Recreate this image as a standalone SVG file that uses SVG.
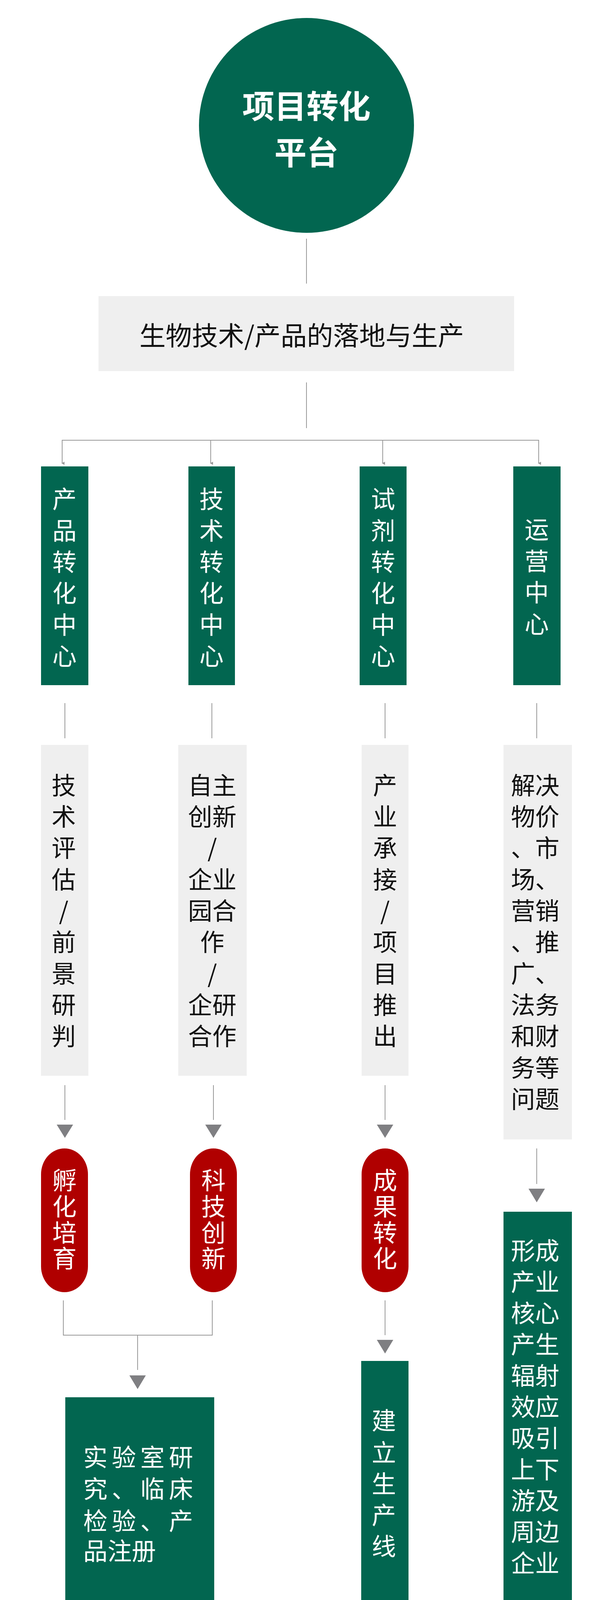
<svg xmlns="http://www.w3.org/2000/svg" width="1563" height="4218" viewBox="0 0 1563 4218">
<style>
.g{fill:#026650}.r{fill:#B00000}.b{fill:#EFEFEF}
text{font-family:"Noto Sans CJK SC","Liberation Sans",sans-serif;dominant-baseline:central;text-anchor:middle}
.w{fill:#fff;font-size:62px}.k{fill:#111;font-size:62px}
.ln{stroke:#999;stroke-width:2;fill:none}
.ar{fill:#7f7f82}
</style>
<defs><marker id="sm" markerWidth="8" markerHeight="8" refX="4" refY="6" orient="auto-start-reverse" markerUnits="userSpaceOnUse" viewBox="0 0 8 8"><path d="M0,0 L8,0 L4,8 Z" fill="#999"/></marker></defs>
<rect width="1563" height="4218" fill="#fff"/>
<g id="connectors">
<line class="ln" x1="784" y1="611" x2="784" y2="726"/>
<line class="ln" x1="784" y1="979" x2="784" y2="1096"/>
<polyline class="ln" points="159,1180 159,1127 1378,1127 1378,1180"/>
<line class="ln" x1="159" y1="1127" x2="159" y2="1186" marker-end="url(#sm)"/>
<line class="ln" x1="539" y1="1127" x2="539" y2="1186" marker-end="url(#sm)"/>
<line class="ln" x1="979" y1="1127" x2="979" y2="1186" marker-end="url(#sm)"/>
<line class="ln" x1="1378" y1="1127" x2="1378" y2="1186" marker-end="url(#sm)"/>
<line class="ln" x1="166" y1="1800" x2="166" y2="1890"/>
<line class="ln" x1="542" y1="1800" x2="542" y2="1890"/>
<line class="ln" x1="985" y1="1800" x2="985" y2="1890"/>
<line class="ln" x1="1373" y1="1800" x2="1373" y2="1890"/>
<line class="ln" x1="166" y1="2778" x2="166" y2="2867"/><path class="ar" d="M145,2879 H187 L166,2913 Z"/>
<line class="ln" x1="546" y1="2778" x2="546" y2="2867"/><path class="ar" d="M525,2879 H567 L546,2913 Z"/>
<line class="ln" x1="985" y1="2778" x2="985" y2="2867"/><path class="ar" d="M964,2879 H1006 L985,2913 Z"/>
<line class="ln" x1="1373" y1="2940" x2="1373" y2="3031"/><path class="ar" d="M1352,3043 H1394 L1373,3078 Z"/>
<polyline class="ln" points="162,3329 162,3418 543,3418 543,3329"/>
<line class="ln" x1="352" y1="3418" x2="352" y2="3507"/><path class="ar" d="M331,3521 H373 L352,3556 Z"/>
<line class="ln" x1="985" y1="3329" x2="985" y2="3418"/><path class="ar" d="M964,3430 H1006 L985,3465 Z"/>
</g>
<g id="root"><circle class="g" cx="784" cy="321" r="275"/>
<text class="w" x="784" y="266" style="font-size:82px;font-weight:bold">项目转化</text>
<text class="w" x="784" y="385" style="font-size:82px;font-weight:bold">平台</text></g>
<g id="landing"><rect class="b" x="252" y="758" width="1063" height="192"/>
<text class="k" x="772" y="854" style="font-size:67px">生物技术/产品的落地与生产</text></g>
<g id="c1"><rect class="g" x="105" y="1194" width="121" height="560"/>
<text class="w" x="165"><tspan x="165" y="1274">产</tspan><tspan x="165" y="1355">品</tspan><tspan x="165" y="1435">转</tspan><tspan x="165" y="1515">化</tspan><tspan x="165" y="1596">中</tspan><tspan x="165" y="1676">心</tspan></text></g>
<g id="c2"><rect class="g" x="482" y="1194" width="119" height="560"/>
<text class="w" x="541"><tspan x="541" y="1274">技</tspan><tspan x="541" y="1355">术</tspan><tspan x="541" y="1435">转</tspan><tspan x="541" y="1515">化</tspan><tspan x="541" y="1596">中</tspan><tspan x="541" y="1676">心</tspan></text></g>
<g id="c3"><rect class="g" x="920" y="1194" width="120" height="560"/>
<text class="w" x="980"><tspan x="980" y="1274">试</tspan><tspan x="980" y="1355">剂</tspan><tspan x="980" y="1435">转</tspan><tspan x="980" y="1515">化</tspan><tspan x="980" y="1596">中</tspan><tspan x="980" y="1676">心</tspan></text></g>
<g id="c4"><rect class="g" x="1313" y="1194" width="121" height="560"/>
<text class="w" x="1373"><tspan x="1373" y="1352">运</tspan><tspan x="1373" y="1433">营</tspan><tspan x="1373" y="1513">中</tspan><tspan x="1373" y="1594">心</tspan></text></g>
<g id="d1"><rect class="b" x="105" y="1907" width="121" height="847"/>
<text class="k"><tspan x="163" y="2007">技</tspan><tspan x="163" y="2087">术</tspan><tspan x="163" y="2167">评</tspan><tspan x="163" y="2248">估</tspan><tspan x="163" y="2328">/</tspan><tspan x="163" y="2408">前</tspan><tspan x="163" y="2489">景</tspan><tspan x="163" y="2569">研</tspan><tspan x="163" y="2649">判</tspan></text></g>
<g id="d2"><rect class="b" x="456" y="1907" width="175" height="847"/>
<text class="k"><tspan x="543" y="2007">自主</tspan><tspan x="543" y="2087">创新</tspan><tspan x="543" y="2167">/</tspan><tspan x="543" y="2248">企业</tspan><tspan x="543" y="2328">园合</tspan><tspan x="543" y="2408">作</tspan><tspan x="543" y="2489">/</tspan><tspan x="543" y="2569">企研</tspan><tspan x="543" y="2649">合作</tspan></text></g>
<g id="d3"><rect class="b" x="925" y="1907" width="120" height="847"/>
<text class="k"><tspan x="985" y="2007">产</tspan><tspan x="985" y="2087">业</tspan><tspan x="985" y="2167">承</tspan><tspan x="985" y="2248">接</tspan><tspan x="985" y="2328">/</tspan><tspan x="985" y="2408">项</tspan><tspan x="985" y="2489">目</tspan><tspan x="985" y="2569">推</tspan><tspan x="985" y="2649">出</tspan></text></g>
<g id="d4"><rect class="b" x="1288" y="1907" width="175" height="1010"/>
<text class="k" style="text-anchor:start"><tspan x="1307" y="2007">解决</tspan><tspan x="1307" y="2087">物价</tspan><tspan x="1307" y="2167">、市</tspan><tspan x="1307" y="2248">场、</tspan><tspan x="1307" y="2328">营销</tspan><tspan x="1307" y="2408">、推</tspan><tspan x="1307" y="2489">广、</tspan><tspan x="1307" y="2569">法务</tspan><tspan x="1307" y="2649">和财</tspan><tspan x="1307" y="2730">务等</tspan><tspan x="1307" y="2810">问题</tspan></text></g>
<g id="p1"><rect class="r" x="105" y="2940" width="120" height="368" rx="60" ry="66"/>
<text class="w"><tspan x="165" y="3018">孵</tspan><tspan x="165" y="3085">化</tspan><tspan x="165" y="3152">培</tspan><tspan x="165" y="3218">育</tspan></text></g>
<g id="p2"><rect class="r" x="486" y="2940" width="120" height="368" rx="60" ry="66"/>
<text class="w"><tspan x="546" y="3018">科</tspan><tspan x="546" y="3085">技</tspan><tspan x="546" y="3152">创</tspan><tspan x="546" y="3218">新</tspan></text></g>
<g id="p3"><rect class="r" x="925" y="2940" width="120" height="368" rx="60" ry="66"/>
<text class="w"><tspan x="985" y="3018">成</tspan><tspan x="985" y="3085">果</tspan><tspan x="985" y="3152">转</tspan><tspan x="985" y="3218">化</tspan></text></g>
<g id="e1"><rect class="g" x="167" y="3577" width="381" height="533"/>
<text class="w" style="text-anchor:start;letter-spacing:11px"><tspan x="213" y="3727">实验室研</tspan><tspan x="213" y="3808">究、临床</tspan><tspan x="213" y="3890">检验、产</tspan><tspan x="213" y="3967" style="letter-spacing:0">品注册</tspan></text></g>
<g id="e3"><rect class="g" x="924" y="3484" width="121" height="626"/>
<text class="w"><tspan x="982" y="3633">建</tspan><tspan x="982" y="3715">立</tspan><tspan x="982" y="3795">生</tspan><tspan x="982" y="3875">产</tspan><tspan x="982" y="3955">线</tspan></text></g>
<g id="e4"><rect class="g" x="1288" y="3102" width="175" height="1008"/>
<text class="w" style="text-anchor:start"><tspan x="1307" y="3198">形成</tspan><tspan x="1307" y="3278">产业</tspan><tspan x="1307" y="3358">核心</tspan><tspan x="1307" y="3438">产生</tspan><tspan x="1307" y="3518">辐射</tspan><tspan x="1307" y="3598">效应</tspan><tspan x="1307" y="3678">吸引</tspan><tspan x="1307" y="3758">上下</tspan><tspan x="1307" y="3838">游及</tspan><tspan x="1307" y="3918">周边</tspan><tspan x="1307" y="3998">企业</tspan></text></g>
</svg>
